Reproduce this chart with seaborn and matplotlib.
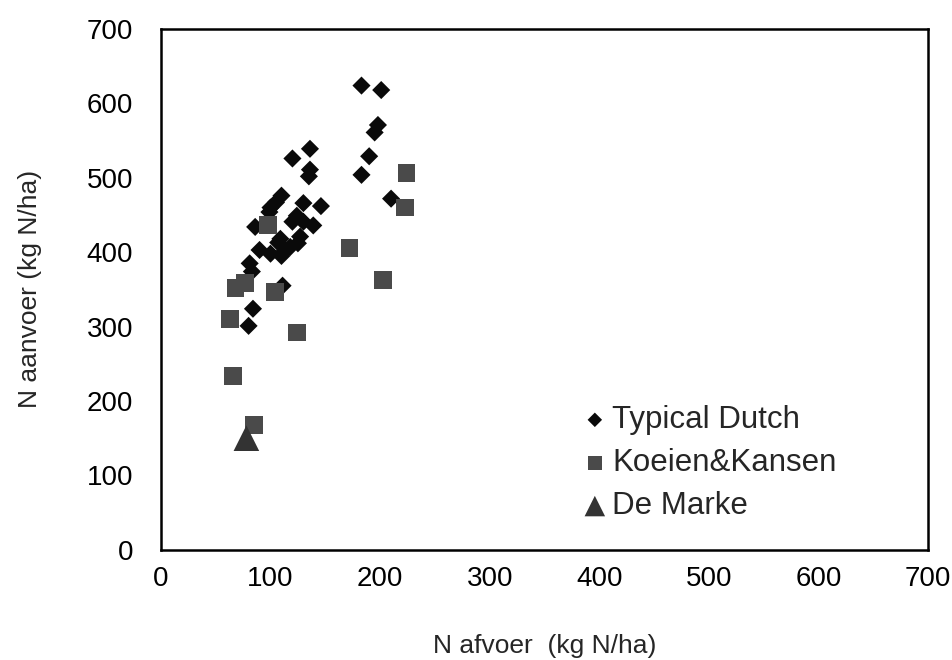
import numpy as np
import pandas as pd
import matplotlib
matplotlib.use('Agg')
import matplotlib.pyplot as plt
import seaborn as sns

# Typical Dutch farms (N afvoer, N aanvoer)
dutch_x = [183, 201, 198, 195, 190, 183, 210, 136, 120, 136, 135, 110, 105, 130, 146,
           99, 86, 124, 120, 130, 139, 109, 127, 107, 118, 90, 100, 110, 113, 81,
           83, 111, 84, 80, 125, 100]
dutch_y = [624, 618, 571, 561, 529, 504, 472, 539, 526, 511, 502, 476, 467, 466, 462,
           454, 434, 449, 441, 441, 436, 418, 421, 413, 407, 403, 398, 395, 402, 385,
           374, 355, 324, 301, 412, 460]

# Koeien&Kansen farms
kk_x = [98, 172, 203, 224, 223, 77, 68, 104, 63, 124, 66, 85]
kk_y = [437, 406, 363, 507, 460, 359, 352, 347, 310, 292, 234, 168]

# De Marke
dm_x = [78]
dm_y = [150]

sns.set_style('white')
plt.rcParams['font.family'] = ['Liberation Sans', 'DejaVu Sans']

fig = plt.figure(figsize=(9.52, 6.6), dpi=100)
ax = fig.add_axes([0.169, 0.167, 0.806, 0.789])

sns.scatterplot(ax=ax, x=dutch_x, y=dutch_y, marker='D', s=85, color='#0a0a0a',
                edgecolor='none', label='Typical Dutch', zorder=3)
sns.scatterplot(ax=ax, x=kk_x, y=kk_y, marker='s', s=165, color='#4a4a4a',
                edgecolor='none', label='Koeien&Kansen', zorder=4)
sns.scatterplot(ax=ax, x=dm_x, y=dm_y, marker='^', s=340, color='#333333',
                edgecolor='none', label='De Marke', zorder=5)

ax.set_xlim(0, 700)
ax.set_ylim(0, 700)
ax.set_xticks(np.arange(0, 701, 100))
ax.set_yticks(np.arange(0, 701, 100))
ax.tick_params(direction='in', length=7, width=1.5, labelsize=20,
               top=False, right=False, colors='black')
ax.tick_params(axis='x', pad=12)
ax.tick_params(axis='y', pad=20)
for sp in ax.spines.values():
    sp.set_linewidth(1.8)
    sp.set_color('black')

ax.set_xlabel('N afvoer  (kg N/ha)', fontsize=19, labelpad=30)
ax.set_ylabel('N aanvoer (kg N/ha)', fontsize=19, labelpad=32)

ax.legend(loc='upper left', bbox_to_anchor=(0.592, 0.41), bbox_transform=fig.transFigure,
          frameon=False, fontsize=22.5, markerscale=0.8, handletextpad=0.05,
          handlelength=1.0, labelspacing=0.42, borderpad=0)

plt.savefig('out.png', dpi=100)
